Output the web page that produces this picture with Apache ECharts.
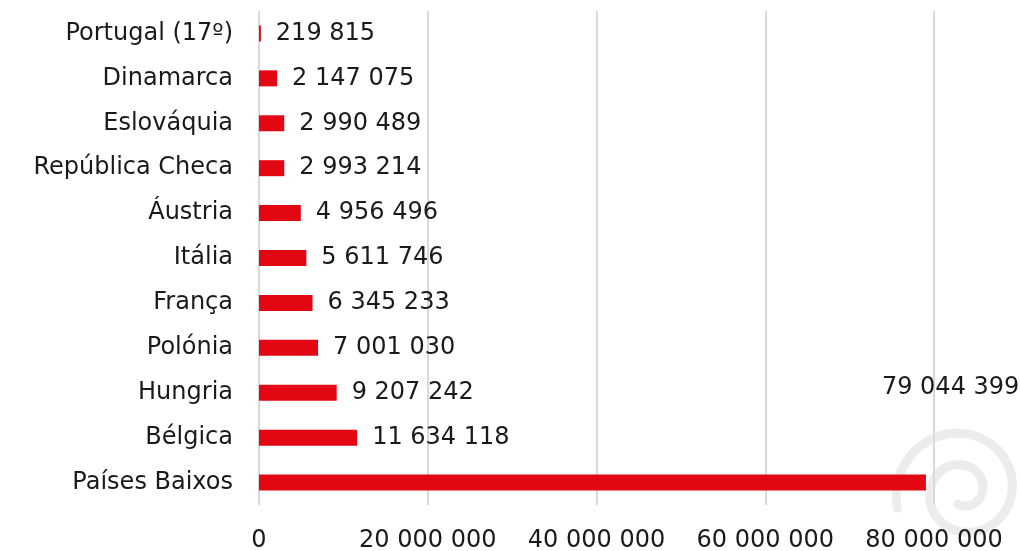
<!DOCTYPE html>
<html>
<head>
<meta charset="utf-8">
<script src="https://cdn.jsdelivr.net/npm/echarts@6/dist/echarts.min.js"></script>
<style>
  html, body { margin: 0; padding: 0; background: #ffffff; }
  #chart { width: 1020px; height: 551px; }
</style>
</head>
<body>
<div id="chart"></div>
<script>
// Countries, listed top to bottom
const categories = [
  'Portugal (17º)', 'Dinamarca', 'Eslováquia', 'República Checa', 'Áustria',
  'Itália', 'França', 'Polónia', 'Hungria', 'Bélgica', 'Países Baixos'
];
const values = [
  219815, 2147075, 2990489, 2993214, 4956496,
  5611746, 6345233, 7001030, 9207242, 11634118, 79044399
];
const axisTicks = [0, 20000000, 40000000, 60000000, 80000000];

const FONT = '"DejaVu Sans", sans-serif';
const FONT_SIZE = 24;
const TEXT = '#1a1a1a';
const RED = '#e30613';

// Thousands grouped with spaces: 2147075 -> "2 147 075"
function spaced(n) {
  return String(Math.round(n)).replace(/\B(?=(\d{3})+(?!\d))/g, ' ');
}

// Faint spiral emblem in the lower right corner
function spiralPoints(cx, cy) {
  const pts = [];
  const start = 0.62 * Math.PI;
  const turns = 3.7 * Math.PI;
  const steps = 160;
  for (let i = 0; i <= steps; i++) {
    const t = i / steps;
    const a = start - t * turns;
    const r = 14 + 54 * Math.pow(t, 1.25);
    pts.push([cx + r * Math.cos(a), cy + r * Math.sin(a)]);
  }
  return pts;
}

// Reverse so the first country sits at the top of the category axis
const cats = categories.slice().reverse();
const vals = values.slice().reverse();
const biggest = vals.indexOf(Math.max.apply(null, vals));

const chart = echarts.init(document.getElementById('chart'), null, { renderer: 'canvas' });
chart.setOption({
  animation: false,
  backgroundColor: '#ffffff',
  graphic: [{
    type: 'polyline',
    z: -10,
    silent: true,
    shape: { points: spiralPoints(963, 491) },
    style: { fill: null, stroke: '#ececec', lineWidth: 9, lineCap: 'round', lineJoin: 'round' }
  }],
  grid: {
    left: 259, right: 86, top: 11, bottom: 46,
    containLabel: false,
    outerBoundsMode: 'none'
  },
  xAxis: {
    type: 'value',
    min: axisTicks[0],
    max: axisTicks[axisTicks.length - 1],
    interval: axisTicks[1] - axisTicks[0],
    axisLine: { show: false },
    axisTick: { show: false },
    splitLine: { show: true, lineStyle: { color: '#d9d9d9', width: 2 } },
    axisLabel: {
      margin: 24,
      fontFamily: FONT,
      fontSize: FONT_SIZE,
      color: TEXT,
      formatter: v => spaced(v)
    }
  },
  yAxis: {
    type: 'category',
    data: cats,
    axisLine: { show: false },
    axisTick: { show: false },
    splitLine: { show: false },
    axisLabel: {
      margin: 26,
      fontFamily: FONT,
      fontSize: FONT_SIZE,
      color: TEXT
    }
  },
  series: [{
    type: 'bar',
    barWidth: 16,
    itemStyle: { color: RED },
    data: vals.map((v, i) => {
      const item = { value: v };
      // the longest bar carries its value up and to the right
      if (i === biggest) {
        item.label = { position: 'right', distance: 0, offset: [-44, -95] };
      }
      return item;
    }),
    label: {
      show: true,
      position: 'right',
      distance: 15,
      fontFamily: FONT,
      fontSize: FONT_SIZE,
      color: TEXT,
      formatter: p => spaced(p.value)
    }
  }]
});
</script>
</body>
</html>
